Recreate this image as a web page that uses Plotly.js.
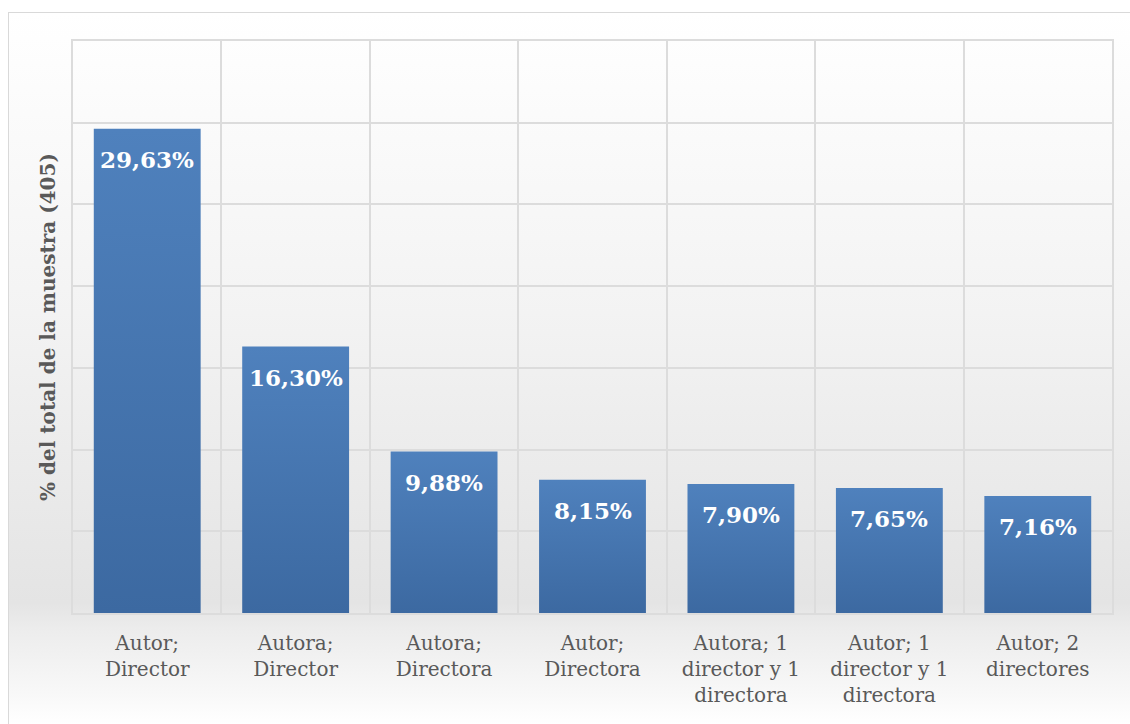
<!DOCTYPE html>
<html>
<head>
<meta charset="utf-8">
<script src="https://cdn.plot.ly/plotly-3.0.1.min.js"></script>
<style>
  html, body { margin: 0; padding: 0; background: #ffffff; }
  #wrap { position: absolute; left: 0; top: 0; width: 1130px; height: 724px; overflow: hidden; }
  #bg { position: absolute; left: 8px; top: 12px; width: 1130px; height: 730px;
        border: 1.5px solid #d9d9d9;
        background: linear-gradient(to bottom, #ffffff 0px, #f3f3f3 300px, #e4e4e4 590px, #ececec 615px, #f8f8f8 680px, #ffffff 712px); }
  #chart { position: absolute; left: 0; top: 0; width: 1130px; height: 724px; }
</style>
</head>
<body>
<div id="wrap">
  <div id="bg"></div>
  <div id="chart"></div>
</div>
<script>
const categories = [
  "Autor;<br>Director",
  "Autora;<br>Director",
  "Autora;<br>Directora",
  "Autor;<br>Directora",
  "Autora; 1<br>director y 1<br>directora",
  "Autor; 1<br>director y 1<br>directora",
  "Autor; 2<br>directores"
];
const values = [29.63, 16.30, 9.88, 8.15, 7.90, 7.65, 7.16];
const valueLabels = ["29,63%", "16,30%", "9,88%", "8,15%", "7,90%", "7,65%", "7,16%"];
const yTitle = "% del total de la muestra (405)";

const trace = {
  type: "bar",
  x: categories,
  y: values,
  marker: { color: "#4674AE", line: { width: 0 } },
  hoverinfo: "skip"
};

const annotations = categories.map((c, i) => ({
  x: c, y: values[i], xref: "x", yref: "y",
  text: "<b>" + valueLabels[i] + "</b>",
  showarrow: false, yanchor: "middle", yshift: -31,
  font: { family: "DejaVu Serif, serif", size: 23, color: "#ffffff" }
}));

const layout = {
  width: 1130, height: 724,
  margin: { l: 73, r: 18, t: 41, b: 111 },
  paper_bgcolor: "rgba(0,0,0,0)",
  plot_bgcolor: "rgba(0,0,0,0)",
  bargap: 0.28,
  showlegend: false,
  xaxis: {
    type: "category",
    tickson: "boundaries",
    showgrid: true, gridcolor: "#dcdcdc", gridwidth: 2,
    showline: true, linecolor: "#dcdcdc", linewidth: 2, mirror: true,
    ticks: "",
    ticklabelstandoff: 11,
    tickfont: { family: "DejaVu Serif, serif", size: 20, color: "#595959" },
    range: [-0.5, 6.5],
    fixedrange: true
  },
  yaxis: {
    range: [0, 35],
    dtick: 5,
    showgrid: true, gridcolor: "#dcdcdc", gridwidth: 2,
    showticklabels: false, ticks: "",
    zeroline: false,
    showline: true, linecolor: "#dcdcdc", linewidth: 2, mirror: true,
    title: { text: "<b>" + yTitle + "</b>", standoff: 10,
             font: { family: "DejaVu Serif, serif", size: 20, color: "#595959" } },
    fixedrange: true
  },
  annotations: annotations,
  font: { family: "DejaVu Serif, serif", color: "#595959" }
};

Plotly.newPlot("chart", [trace], layout, { displayModeBar: false, staticPlot: true }).then(function (gd) {
  const svg = gd.querySelector("svg.main-svg");
  const ns = "http://www.w3.org/2000/svg";
  let defs = svg.querySelector("defs");
  const grad = document.createElementNS(ns, "linearGradient");
  grad.setAttribute("id", "barGrad");
  grad.setAttribute("x1", "0"); grad.setAttribute("y1", "0");
  grad.setAttribute("x2", "0"); grad.setAttribute("y2", "1");
  const s1 = document.createElementNS(ns, "stop");
  s1.setAttribute("offset", "0"); s1.setAttribute("stop-color", "#4F81BD");
  const s2 = document.createElementNS(ns, "stop");
  s2.setAttribute("offset", "1"); s2.setAttribute("stop-color", "#3C69A1");
  grad.appendChild(s1); grad.appendChild(s2);
  defs.appendChild(grad);
  gd.querySelectorAll(".bars .point path").forEach(function (p) {
    p.style.fill = "url(#barGrad)";
  });
});
</script>
</body>
</html>
